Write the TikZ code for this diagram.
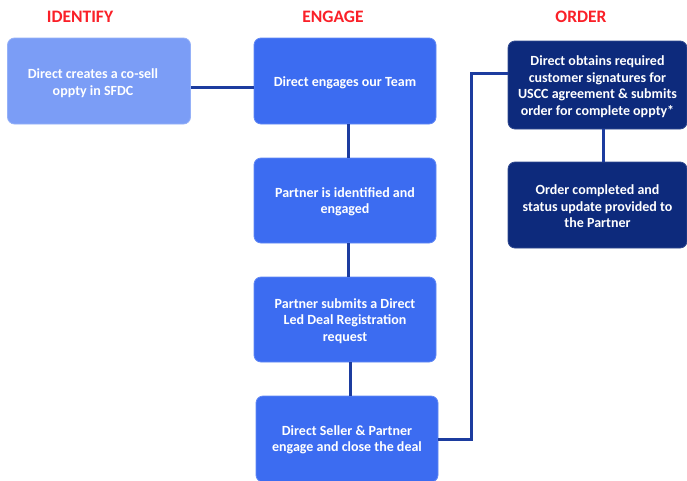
\documentclass[tikz,border=0pt]{standalone}
\usepackage{fontspec}
\setmainfont{Carlito}
\definecolor{lightbox}{HTML}{7B9DF6}
\definecolor{midbox}{HTML}{3C6CF1}
\definecolor{darkbox}{HTML}{0D2A7C}
\definecolor{linkc}{HTML}{1C3C9F}
\definecolor{titlered}{HTML}{FA2028}
\begin{document}
\begin{tikzpicture}[x=1pt,y=-1pt,
  box/.style={rectangle, rounded corners=7pt, inner sep=0pt, line width=0.8pt},
  lbox/.style={box, fill=lightbox, draw=lightbox!80!white},
  mbox/.style={box, fill=midbox, draw=midbox!80!white},
  dbox/.style={box, fill=darkbox, draw=darkbox!85!white},
  txt/.style={text=white, align=center, inner sep=0pt,
    font=\fontsize{14}{16.5}\selectfont\bfseries},
  ttl/.style={text=titlered, font=\fontsize{17.5}{20}\selectfont\bfseries, inner sep=0pt},
  link/.style={draw=linkc, line width=3pt}]
\useasboundingbox (0,0) rectangle (687,480);
\fill[white] (0,0) rectangle (687,480);
\begin{scope}
\clip (0,0) rectangle (687,480);
\node[ttl] (t1) at (80,17) {IDENTIFY};
\node[ttl] (t2) at (333,17) {ENGAGE};
\node[ttl] (t3) at (581,17) {ORDER};

\node[lbox, minimum width=183pt, minimum height=86pt] (b1) at (99,81) {};
\node[mbox, minimum width=182pt, minimum height=86pt] (b2) at (345,81) {};
\node[mbox, minimum width=182pt, minimum height=85pt] (b3) at (345,200.5) {};
\node[mbox, minimum width=182pt, minimum height=85pt] (b4) at (345,319.5) {};
\node[mbox, minimum width=182pt, minimum height=86pt] (b5) at (347,439) {};
\node[dbox, minimum width=179pt, minimum height=88pt] (o1) at (597.5,85) {};
\node[dbox, minimum width=179pt, minimum height=86pt] (o2) at (597.5,205) {};

\node[txt] (b1t) at (93,83) {Direct creates a co-sell\\oppty in SFDC};
\node[txt] (b2t) at ([yshift=-2pt]b2.center) {Direct engages our Team};
\node[txt] (b3t) at ([yshift=-1.5pt]b3.center) {Partner is identified and\\engaged};
\node[txt] (b4t) at ([yshift=-1.5pt]b4.center) {Partner submits a Direct\\Led Deal Registration\\request};
\node[txt] (b5t) at ([yshift=-1pt]b5.center) {Direct Seller \& Partner\\engage and close the deal};
\node[txt] (o1t) at ([yshift=-1.5pt]o1.center) {Direct obtains required\\customer signatures for\\USCC agreement \& submits\\order for complete oppty*};
\node[txt] (o2t) at ([yshift=-1.5pt]o2.center) {Order completed and\\status update provided to\\the Partner};

\draw[link] ([yshift=-6pt]b1.east) -- ([yshift=-6pt]b2.west);
\draw[link] ([xshift=3pt]b2.south) -- ([xshift=3pt]b3.north);
\draw[link] ([xshift=3pt]b3.south) -- ([xshift=3pt]b4.north);
\draw[link] ([xshift=5pt]b4.south) -- ([xshift=3pt]b5.north);
\draw[link] (b5.east) -| ([xshift=-36pt,yshift=12pt]o1.west) -- ([yshift=12pt]o1.west);
\draw[link] ([xshift=5.5pt]o1.south) -- ([xshift=5.5pt]o2.north);
\end{scope}
\end{tikzpicture}
\end{document}
